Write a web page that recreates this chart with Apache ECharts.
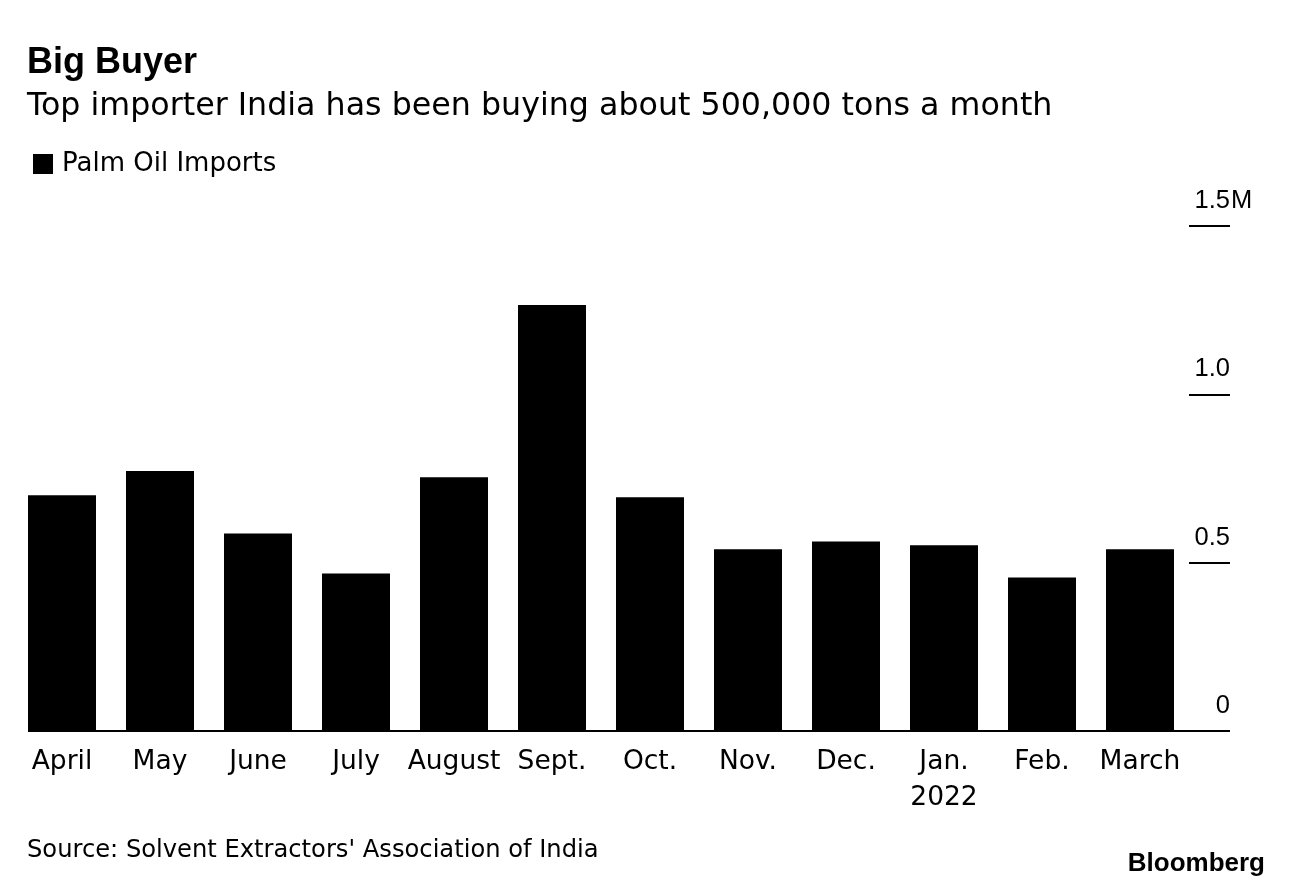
<!DOCTYPE html>
<html>
<head>
<meta charset="utf-8">
<script src="https://cdn.jsdelivr.net/npm/echarts@6/dist/echarts.min.js"></script>
<style>
html,body{margin:0;padding:0;background:#fff;}
#chart{width:1293px;height:888px;}
</style>
</head>
<body>
<div id="chart"></div>
<script>
const categories = ['April','May','June','July','August','Sept.','Oct.','Nov.','Dec.','Jan.\n2022','Feb.','March'];
const palmOilImports = [700000, 772000, 587000, 468000, 754000, 1265000, 694000, 540000, 563000, 552000, 456000, 540000];
const tickValues = [0, 500000, 1000000, 1500000];
const tickLabels = ['0', '0.5', '1.0', '1.5'];
const tickUnit = 'M';

const ARIAL = '"Liberation Sans", Arial, sans-serif';
const BODY = '"DejaVu Sans", "Liberation Sans", Arial, sans-serif';
const chart = echarts.init(document.getElementById('chart'), null, {renderer: 'canvas'});

const gridLeft = 13, gridRight = 104, gridTop = 226, gridBottom = 157;

const yCommon = {
  type: 'value',
  position: 'right',
  min: 0, max: 1500000, interval: 500000,
  splitLine: {show: false},
  axisLine: {show: false}
};

chart.setOption({
  backgroundColor: '#ffffff',
  animation: false,
  title: [
    {text: 'Big Buyer', left: 22, top: 40, textStyle: {fontFamily: ARIAL, fontSize: 36, fontWeight: 'bold', color: '#000'}},
    {text: 'Top importer India has been buying about 500,000 tons a month', left: 22, top: 86, textStyle: {fontFamily: BODY, fontSize: 31.7, fontWeight: 'normal', color: '#000'}},
    {text: "Source: Solvent Extractors' Association of India", left: 22, top: 834, textStyle: {fontFamily: BODY, fontSize: 24.2, fontWeight: 'normal', color: '#000'}},
    {text: 'Bloomberg', right: 23, top: 846, textStyle: {fontFamily: ARIAL, fontSize: 26, fontWeight: 'bold', color: '#000'}}
  ],
  legend: {
    data: ['Palm Oil Imports'],
    left: 28, top: 146,
    icon: 'rect', itemWidth: 20, itemHeight: 20, itemGap: 10,
    textStyle: {fontFamily: BODY, fontSize: 26, color: '#000', padding: [0,0,0,4]}
  },
  grid: {left: gridLeft, right: gridRight, top: gridTop, bottom: gridBottom, containLabel: false},
  xAxis: {
    type: 'category',
    data: categories,
    boundaryGap: true,
    axisLine: {show: false},
    axisTick: {show: false},
    axisLabel: {fontFamily: BODY, fontSize: 26.5, color: '#000', margin: 13, lineHeight: 36, interval: 0}
  },
  yAxis: [
    Object.assign({}, yCommon, {
      axisTick: {show: true, inside: false, length: 41, lineStyle: {color: '#000', width: 2}},
      axisLabel: {
        fontFamily: ARIAL, fontSize: 25.5, color: '#000',
        align: 'right', verticalAlign: 'bottom', margin: 41, padding: [0,0,12,0],
        formatter: function (v) { const i = tickValues.indexOf(v); return i >= 0 ? tickLabels[i] : ''; }
      }
    }),
    Object.assign({}, yCommon, {
      axisTick: {show: false},
      axisLabel: {
        fontFamily: ARIAL, fontSize: 25.5, color: '#000',
        align: 'left', verticalAlign: 'bottom', margin: 42, padding: [0,0,12,0],
        formatter: function (v) { return v === tickValues[tickValues.length - 1] ? tickUnit : ''; }
      }
    })
  ],
  series: [{
    name: 'Palm Oil Imports',
    type: 'bar',
    data: palmOilImports,
    barWidth: 68,
    itemStyle: {color: '#000'}
  }]
});

// baseline (x axis line) extending from first bar to the end of the y tick marks
const y0 = chart.convertToPixel({yAxisIndex: 0}, 0);
const xFirst = chart.convertToPixel({xAxisIndex: 0}, categories[0]) - 34;
chart.setOption({
  graphic: [{
    type: 'line', z: 10,
    shape: {x1: xFirst, y1: y0, x2: 1293 - gridRight + 41, y2: y0},
    style: {stroke: '#000', lineWidth: 2}
  }]
});
</script>
</body>
</html>
